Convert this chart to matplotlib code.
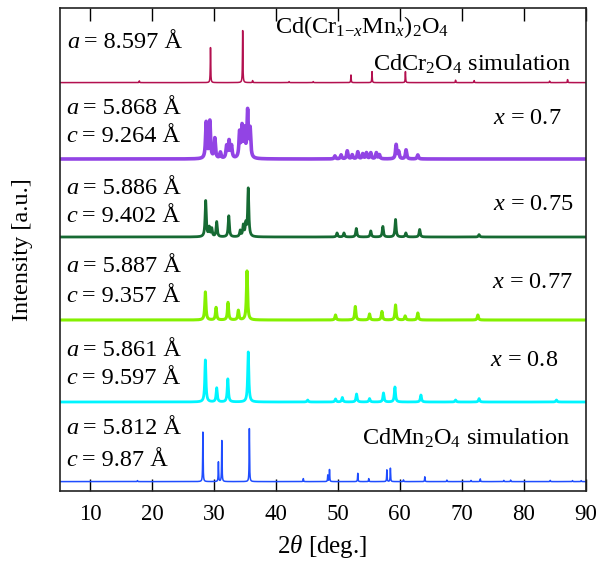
import numpy as np
import matplotlib
matplotlib.use("Agg")
import matplotlib.pyplot as plt

plt.rcParams['font.family'] = ['Liberation Serif', 'DejaVu Serif']
plt.rcParams['mathtext.fontset'] = 'custom'
plt.rcParams['mathtext.rm'] = 'Liberation Serif'
plt.rcParams['mathtext.it'] = 'Liberation Serif:italic'
plt.rcParams['mathtext.bf'] = 'Liberation Serif:bold'

# ---------------- data (peak positions [deg], heights [a.u.]) ----------------
two_theta_min, two_theta_max = 5, 90

cr_sim_pos = [17.9, 29.4, 34.6, 36.2, 42.1, 46.0, 52.1, 55.5, 60.9, 69.0, 72.0, 84.2, 87.1]
cr_sim_h   = [1.7, 35, 52, 2, 1, 1, 7.6, 11, 11, 2.4, 2, 1.5, 3]

x07_pos = [28.7, 29.3, 30.1, 31.0, 32.0, 32.4, 32.8, 34.1, 34.5, 34.9, 35.4, 35.8,
           49.5, 50.5, 51.5, 52.3, 53.2, 54.0, 54.6, 55.3, 56.2, 56.7, 59.4, 59.8, 61.0, 62.9]
x07_h   = [36, 37, 20, 6, 12, 17, 12, 25, 30, 27, 46, 28,
           3, 4, 8, 4, 7, 5, 6, 6, 6, 4, 14, 7, 9, 4]

x075_pos = [28.62, 29.2, 29.6, 30.4, 32.35, 34.2, 34.7, 35.1, 35.5, 49.85, 50.96,
            52.96, 55.3, 57.25, 59.3, 60.97, 63.2, 72.8]
x075_h   = [36, 9, 8, 15, 21, 6, 11, 12, 48, 4, 4, 8.5, 6, 10.5, 17.5, 4, 7.5, 2.4]

x077_pos = [28.57, 30.3, 32.23, 33.9, 35.3, 49.6, 52.8, 55.1, 57.1, 59.3, 60.86, 62.9, 72.6]
x077_h   = [28, 12.5, 17.5, 9.5, 49, 5, 13.5, 6, 8.5, 15, 4, 7, 5]

x08_pos = [28.57, 30.4, 32.2, 35.5, 45.1, 49.6, 50.7, 53.0, 55.1, 57.35, 59.2, 63.4, 69.0, 72.8, 85.3]
x08_h   = [42, 14, 23, 50, 2, 3, 4.5, 8, 3.4, 9, 15, 7, 2, 3.4, 2]

mn_sim_pos = [17.6, 28.17, 30.68, 31.23, 35.68, 44.4, 48.35, 48.63, 53.2, 54.97, 57.9, 58.47,
              60.58, 64.03, 67.6, 71.5, 73.0, 76.8, 77.9, 84.3, 87.9, 89.3]
mn_sim_h   = [1, 49.5, 19.6, 41, 53, 3, 6.5, 12, 8.3, 3, 11.7, 13.4,
              1.7, 4.8, 1.5, 1.2, 2.7, 1.2, 1.5, 1.2, 1, 1]

offsets = [408.4, 332, 254, 171, 89, 9.4]
colors = ['#b3104f', '#9244e4', '#166a33', '#84f000', '#00f5ff', '#1f4dff']

x_ticks = [10, 20, 30, 40, 50, 60, 70, 80, 90]

lattice_a = ['8.597', '5.868', '5.886', '5.887', '5.861', '5.812']
lattice_c = [None, '9.264', '9.402', '9.357', '9.597', '9.87']
x_labels = ['0.7', '0.75', '0.77', '0.8']


def profile(x, pos, h, w):
    y = np.zeros_like(x)
    for p, a in zip(pos, h):
        y += a * w**2 / ((x - p)**2 + w**2)
    return y


x = np.linspace(two_theta_min, two_theta_max, 17001)

fig = plt.figure(figsize=(5.99, 5.63), dpi=100)
ax = fig.add_axes([59.5/599, 1-491/563, 526/599, 483/563])

series = [
    (cr_sim_pos, cr_sim_h, 0.04, 1.1),
    (x07_pos, x07_h, 0.12, 2.6),
    (x075_pos, x075_h, 0.11, 2.0),
    (x077_pos, x077_h, 0.11, 2.2),
    (x08_pos, x08_h, 0.11, 2.0),
    (mn_sim_pos, mn_sim_h, 0.04, 1.1),
]
for (pos, h, w, lw), off, c in zip(series, offsets, colors):
    ax.plot(x, off + profile(x, pos, h, w), color=c, lw=lw)

ax.set_xlim(two_theta_min, two_theta_max)
ax.set_ylim(0, 483)
ax.set_xticks(x_ticks)
ax.set_yticks([])
ax.tick_params(axis='x', which='both', direction='in', top=True, bottom=True,
               length=9, width=1, labelsize=16.5, pad=9)
for s in ax.spines.values():
    s.set_linewidth(1.2)
    s.set_color('#222222')

ax.set_xlabel(r'2$\theta$ [deg.]', fontsize=18, labelpad=6)
ax.set_ylabel('Intensity [a.u.]', fontsize=17.5, labelpad=19)

fs = 17.5


def ax_pt(px, py):
    return ((px - 59.5) / 526, (491 - py) / 483)


def lattice_label(px, py, letter, value):
    t1 = ax.text(*ax_pt(px, py), letter, style='italic', fontsize=fs,
                 ha='left', va='center', transform=ax.transAxes)
    ax.annotate('\u2009= ' + value + ' Å', xy=(1, 0), xycoords=t1, fontsize=fs,
                ha='left', va='bottom', family=['Liberation Serif', 'DejaVu Serif'])


tkw = dict(transform=ax.transAxes, fontsize=fs, va='center')

lattice_label(67, 43, 'a', lattice_a[0])
ax.text(*ax_pt(362, 27), r'Cd(Cr$_{1\mathrm{-}x}$Mn$_x$)$_2$O$_4$', ha='center', **tkw)
ax.text(*ax_pt(572, 64), r'CdCr$_2$O$_4$ simulation', ha='right', **tkw)

ya_list = [109, 188, 267, 350, 429]
yc_list = [137, 217, 296, 379, 460]
for a, c, ya, yc in zip(lattice_a[1:], lattice_c[1:], ya_list, yc_list):
    lattice_label(66, ya, 'a', a)
    lattice_label(66, yc, 'c', c)

x_pos = [(562, 119), (573, 205), (573, 282), (558, 361)]
for lab, (px, py) in zip(x_labels, x_pos):
    ax.text(*ax_pt(px, py), r'$x$ = ' + lab, ha='right', **tkw)
ax.text(*ax_pt(570, 438), r'CdMn$_2$O$_4$ simulation', ha='right', **tkw)

fig.savefig('out.png', dpi=100)
